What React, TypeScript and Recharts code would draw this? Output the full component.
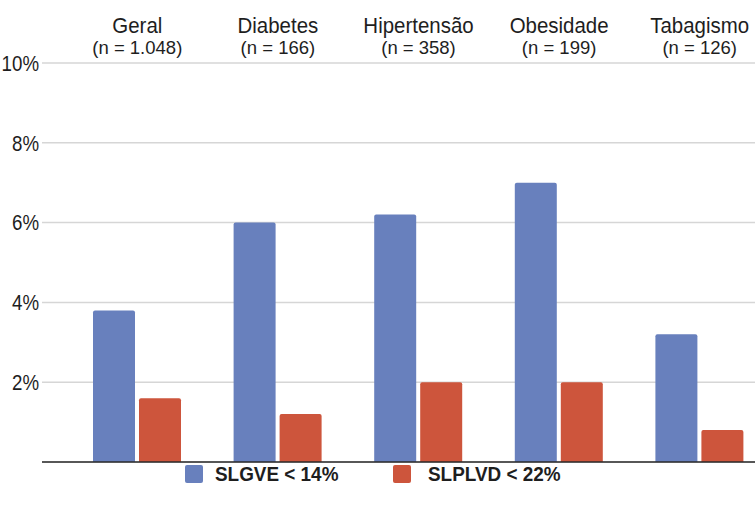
import React from "react";
import { BarChart, Bar, XAxis, YAxis, CartesianGrid, ReferenceLine } from "recharts";

const categories = ["Geral", "Diabetes", "Hipertensão", "Obesidade", "Tabagismo"];
const sampleSizes = ["(n = 1.048)", "(n = 166)", "(n = 358)", "(n = 199)", "(n = 126)"];
const slgve = [3.8, 6.0, 6.2, 7.0, 3.2];
const slplvd = [1.6, 1.2, 2.0, 2.0, 0.8];
const yTicks = [2, 4, 6, 8, 10];
const seriesNames = ["SLGVE < 14%", "SLPLVD < 22%"];

const BLUE = "#6880bd";
const RED = "#cd553c";
const INK = "#1e1e1e";
const FONT = '"Liberation Sans", Arial, sans-serif';

const data = categories.map((name, i) => ({
  name,
  slgve: slgve[i],
  slplvd: slplvd[i],
}));

// condensed look: squeeze glyphs horizontally around the anchor point
function GroupTick(props: any) {
  const { x, y, payload } = props;
  const idx = categories.indexOf(payload.value);
  return (
    <g>
      <text
        transform={`translate(${x} ${y - 21}) scale(0.93 1)`}
        textAnchor="middle"
        fontFamily={FONT}
        fontSize={22}
        fill={INK}
      >
        {payload.value}
      </text>
      <text x={x} y={y} textAnchor="middle" fontFamily={FONT} fontSize={18.5} fill={INK}>
        {sampleSizes[idx]}
      </text>
    </g>
  );
}

function PercentTick(props: any) {
  const { x, y, payload } = props;
  return (
    <text
      transform={`translate(${x} ${y}) scale(0.85 1)`}
      dy="0.355em"
      textAnchor="end"
      fontFamily={FONT}
      fontSize={22}
      fill={INK}
    >
      {`${payload.value}%`}
    </text>
  );
}

function LegendItem({ color, label, left, gap }: { color: string; label: string; left: number; gap: number }) {
  return (
    <div style={{ position: "absolute", left, top: 465, display: "flex", alignItems: "center", whiteSpace: "nowrap" }}>
      <div style={{ width: 18, height: 18, background: color, borderRadius: 2, flex: "none" }} />
      <span
        style={{
          display: "inline-block",
          marginLeft: gap,
          fontFamily: FONT,
          fontWeight: 700,
          fontSize: 21,
          color: INK,
          lineHeight: "18px",
          transform: "scaleX(0.9)",
          transformOrigin: "left center",
        }}
      >
        {label}
      </span>
    </div>
  );
}

export default function App() {
  return (
    <div
      style={{
        position: "absolute",
        left: 0,
        top: 0,
        width: 755,
        height: 505,
        overflow: "hidden",
        background: "#fff",
      }}
    >
      <BarChart
        width={790}
        height={505}
        data={data}
        margin={{ top: 0, right: 0, left: 0, bottom: 43 }}
        barGap={4}
        barSize={42}
      >
        <CartesianGrid vertical={false} stroke="#d6d6d6" strokeWidth={1.5} />
        <XAxis
          dataKey="name"
          orientation="top"
          height={63}
          axisLine={false}
          tickLine={false}
          tickSize={0}
          tickMargin={9}
          padding={{ left: 25, right: 20 }}
          tick={<GroupTick />}
          interval={0}
        />
        <YAxis
          domain={[0, 10]}
          ticks={yTicks}
          width={42}
          axisLine={false}
          tickLine={false}
          tickSize={0}
          tickMargin={3}
          tick={<PercentTick />}
        />
        <Bar dataKey="slgve" name={seriesNames[0]} fill={BLUE} radius={[2, 2, 0, 0]} isAnimationActive={false} />
        <Bar dataKey="slplvd" name={seriesNames[1]} fill={RED} radius={[2, 2, 0, 0]} isAnimationActive={false} />
        <ReferenceLine y={0} stroke="#2a2a2a" strokeWidth={1.5} />
      </BarChart>
      <LegendItem color={BLUE} label={seriesNames[0]} left={185} gap={12} />
      <LegendItem color={RED} label={seriesNames[1]} left={393} gap={17} />
    </div>
  );
}
